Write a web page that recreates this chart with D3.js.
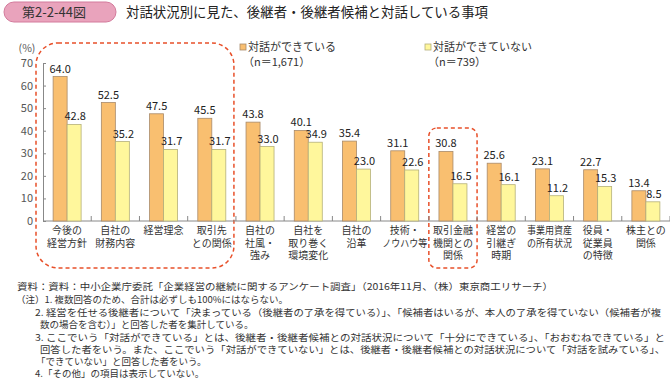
<!DOCTYPE html>
<html>
<head>
<meta charset="utf-8">
<script src="https://cdn.jsdelivr.net/npm/d3@7"></script>
<style>
  body { margin: 0; background: #fff; }
  svg { font-family: "Noto Sans CJK JP", "Noto Sans", sans-serif; }
</style>
</head>
<body>
<svg id="chart" width="670" height="380"></svg>
<script>
let categories = [
  ["今後の","経営方針"], ["自社の","財務内容"], ["経営理念"], ["取引先","との関係"],
  ["自社の","社風・","強み"], ["自社を","取り巻く","環境変化"], ["自社の","沿革"],
  ["技術・","ノウハウ等"], ["取引金融","機関との","関係"], ["経営の","引継ぎ","時期"],
  ["事業用資産","の所有状況"], ["役員・","従業員","の特徴"], ["株主との","関係"]
];
let canTalk = [64.0, 52.5, 47.5, 45.5, 43.8, 40.1, 35.4, 31.1, 30.8, 25.6, 23.1, 22.7, 13.4];
let cannotTalk = [42.8, 35.2, 31.7, 31.7, 33.0, 34.9, 23.0, 22.6, 16.5, 16.1, 11.2, 15.3, 8.5];
let seriesNames = ["対話ができている", "対話ができていない"];
let seriesN = ["（n＝1,671）", "（n＝739）"];
let yTicks = [0, 10, 20, 30, 40, 50, 60, 70];

// w: width to fit the line into (only the long lines)
let notes = [
  {x: 17, y: 290, w: 536, t: "資料：資料：中小企業庁委託「企業経営の継続に関するアンケート調査」（2016年11月、（株）東京商工リサーチ）"},
  {x: 16, y: 303, w: 0, t: "（注）1. 複数回答のため、合計は必ずしも100%にはならない。"},
  {x: 35, y: 316, w: 626, t: "2. 経営を任せる後継者について「決まっている（後継者の了承を得ている）」、「候補者はいるが、本人の了承を得ていない（候補者が複"},
  {x: 40, y: 328, w: 0, t: "数の場合を含む）」と回答した者を集計している。"},
  {x: 35, y: 341, w: 630, t: "3. ここでいう「対話ができている」とは、後継者・後継者候補との対話状況について「十分にできている」、「おおむねできている」と"},
  {x: 40, y: 353, w: 625, t: "回答した者をいう。また、ここでいう「対話ができていない」とは、後継者・後継者候補との対話状況について「対話を試みている」、"},
  {x: 36, y: 365, w: 0, t: "「できていない」と回答した者をいう。"},
  {x: 35, y: 377, w: 0, t: "4.「その他」の項目は表示していない。"}
];

let colors = { a: "#F9BF70", aStroke: "#A98A6A", b: "#FFF79C", bStroke: "#B5B07A", dash: "#E8502A" };

let svg = d3.select("#chart");

let x = d3.scaleBand().domain(d3.range(categories.length)).range([43, 670]).paddingInner(0);
let y = d3.scaleLinear().domain([0, 70]).range([221, 63]);
let barW = 14;

// title
svg.append("rect").attr("x", 4).attr("y", 2).attr("width", 112).attr("height", 20).attr("rx", 10)
  .style("fill", "#E9A3BC").style("stroke", "#D37B9C").style("stroke-width", 1);
svg.append("text").attr("x", 54).attr("y", 17).attr("text-anchor", "middle")
  .style("font-size", "13px").style("fill", "#333").text("第2-2-44図");
svg.append("text").attr("x", 126).attr("y", 17)
  .style("font-size", "13.5px").style("fill", "#222")
  .attr("textLength", 362).attr("lengthAdjust", "spacingAndGlyphs")
  .text("対話状況別に見た、後継者・後継者候補と対話している事項");

// dashed highlight boxes
svg.append("rect").attr("x", x(0) - 7).attr("y", 43).attr("width", x(4) - 2 - (x(0) - 7)).attr("height", 225)
  .attr("rx", 22).style("fill", "none").style("stroke", colors.dash).style("stroke-width", 1.5).style("stroke-dasharray", "4,3");
svg.append("rect").attr("x", x(8)).attr("y", 128).attr("width", x.bandwidth()).attr("height", 140)
  .attr("rx", 8).style("fill", "none").style("stroke", colors.dash).style("stroke-width", 1.5).style("stroke-dasharray", "4,3");

// y axis
let yAxis = svg.append("g").attr("transform", "translate(43,0)")
  .call(d3.axisRight(y).tickValues(yTicks).tickSize(3).tickFormat(""));
yAxis.select(".domain").style("stroke", "#888");
yAxis.selectAll(".tick line").style("stroke", "#888");
svg.selectAll(".ylab").data(yTicks).enter().append("text")
  .attr("x", 33).attr("y", d => y(d) + 4).attr("text-anchor", "end")
  .style("font-size", "11px").style("fill", "#555").text(d => d);
svg.append("text").attr("x", 27).attr("y", 52).attr("text-anchor", "middle")
  .style("font-size", "10.5px").style("fill", "#555").text("(%)");

// x axis
let xAxis = svg.append("g").attr("transform", "translate(0,221)");
xAxis.append("line").attr("x1", 43).attr("x2", 670).attr("y1", 0).attr("y2", 0).style("stroke", "#888");
xAxis.selectAll(".xtick").data(d3.range(1, categories.length + 1)).enter().append("line")
  .attr("x1", d => x(0) + d * x.bandwidth()).attr("x2", d => x(0) + d * x.bandwidth())
  .attr("y1", 0).attr("y2", -5).style("stroke", "#888");

// bars
svg.selectAll(".barA").data(canTalk).enter().append("rect")
  .attr("x", (d, i) => x(i) + x.bandwidth() / 2 - barW)
  .attr("y", d => y(d)).attr("width", barW).attr("height", d => y(0) - y(d))
  .style("fill", colors.a).style("stroke", colors.aStroke).style("stroke-width", 0.8);
svg.selectAll(".barB").data(cannotTalk).enter().append("rect")
  .attr("x", (d, i) => x(i) + x.bandwidth() / 2)
  .attr("y", d => y(d)).attr("width", barW).attr("height", d => y(0) - y(d))
  .style("fill", colors.b).style("stroke", colors.bStroke).style("stroke-width", 0.8);

// value labels
svg.selectAll(".valA").data(canTalk).enter().append("text")
  .attr("x", (d, i) => x(i) + x.bandwidth() / 2 - barW / 2)
  .attr("y", d => y(d) - 4).attr("text-anchor", "middle")
  .style("font-size", "11px").style("fill", "#222").text(d => d.toFixed(1));
svg.selectAll(".valB").data(cannotTalk).enter().append("text")
  .attr("x", (d, i) => x(i) + x.bandwidth() / 2 + barW / 2 + 1)
  .attr("y", d => y(d) - 4).attr("text-anchor", "middle")
  .style("font-size", "11px").style("fill", "#222").text(d => d.toFixed(1));

// category labels, long lines squeezed into the band
categories.forEach(function(lines, i){
  lines.forEach(function(line, j){
    let t = svg.append("text").attr("text-anchor", "middle")
      .attr("x", x(i) + x.bandwidth() / 2).attr("y", 234 + j * 12.5)
      .style("font-size", "10px").style("fill", "#333").text(line);
    if (t.node().getComputedTextLength() > 45) {
      t.attr("textLength", 45).attr("lengthAdjust", "spacingAndGlyphs");
    }
  });
});

// legend
[[240, colors.a, colors.aStroke], [425, colors.b, colors.bStroke]].forEach(function(l, i){
  svg.append("rect").attr("x", l[0]).attr("y", 44).attr("width", 6).attr("height", 6)
    .style("fill", l[1]).style("stroke", l[2]).style("stroke-width", 0.8);
  svg.append("text").attr("x", l[0] + 8).attr("y", 51).style("font-size", "11px").style("fill", "#333").text(seriesNames[i]);
  svg.append("text").attr("x", l[0] + 3).attr("y", 66).style("font-size", "11px").style("fill", "#333").text(seriesN[i]);
});

// notes
svg.selectAll(".note").data(notes).enter().append("text")
  .attr("x", d => d.x).attr("y", d => d.y)
  .style("font-size", "9.5px").style("fill", "#333").text(d => d.t)
  .each(function(d){
    if (d.w) d3.select(this).attr("textLength", d.w).attr("lengthAdjust", "spacingAndGlyphs");
  });
</script>
</body>
</html>
